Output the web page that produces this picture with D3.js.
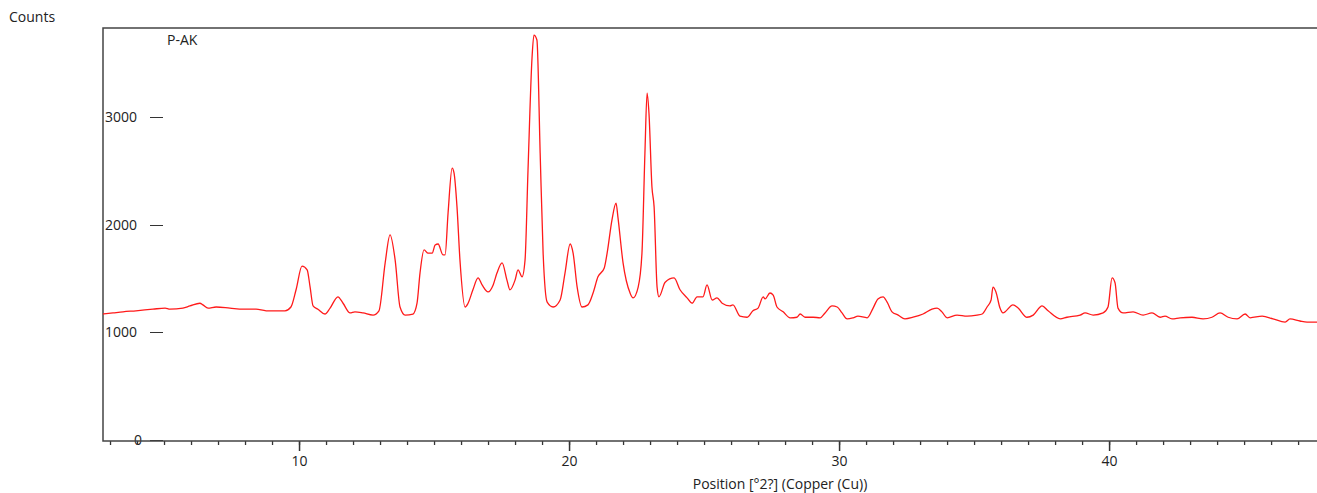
<!DOCTYPE html>
<html>
<head>
<meta charset="utf-8">
<script src="https://cdnjs.cloudflare.com/ajax/libs/d3/7.8.5/d3.min.js"></script>
<style>
  body { margin: 0; background: #fff; }
  text { font-family: "Segoe UI", "Open Sans", "Noto Sans", sans-serif; fill: #222; }
</style>
</head>
<body>
<script>
// diffraction pattern: position [deg 2theta] and counts
var twoTheta = [
  2.74, 3.11, 3.48, 3.96, 4.59, 5.04, 5.22, 5.70, 5.96, 6.33, 6.44, 6.63, 6.93, 7.44, 7.93, 8.41,
  8.78, 9.15, 9.48, 9.70, 9.89, 10.11, 10.30, 10.41, 10.52, 10.70, 10.96, 11.15, 11.44, 11.63, 11.89,
  12.07, 12.37, 12.74, 12.96, 13.19, 13.37, 13.56, 13.74, 13.93, 14.22, 14.37, 14.48, 14.63, 14.78,
  14.93, 15.04, 15.15, 15.33, 15.41, 15.52, 15.67, 15.74, 15.85, 15.96, 16.15, 16.26, 16.44, 16.63,
  16.78, 17.00, 17.19, 17.33, 17.52, 17.70, 17.81, 18.00, 18.11, 18.26, 18.37, 18.48, 18.63, 18.70,
  18.81, 18.93, 19.04, 19.19, 19.41, 19.67, 19.85, 20.04, 20.15, 20.30, 20.48, 20.70, 20.89, 21.07,
  21.30, 21.41, 21.59, 21.74, 21.81, 22.00, 22.26, 22.37, 22.56, 22.70, 22.81, 22.89, 22.96, 23.07,
  23.15, 23.26, 23.33, 23.56, 23.89, 24.11, 24.37, 24.56, 24.74, 24.96, 25.11, 25.30, 25.48, 25.67,
  25.96, 26.07, 26.33, 26.59, 26.81, 27.00, 27.19, 27.26, 27.44, 27.56, 27.70, 27.93, 28.19, 28.44,
  28.56, 28.74, 29.04, 29.30, 29.48, 29.74, 29.93, 30.11, 30.30, 30.52, 30.70, 31.04, 31.26, 31.44,
  31.63, 31.78, 31.96, 32.19, 32.44, 32.74, 33.11, 33.44, 33.63, 33.81, 34.00, 34.37, 34.74, 35.11,
  35.30, 35.48, 35.63, 35.70, 35.81, 35.96, 36.07, 36.44, 36.63, 36.96, 37.19, 37.52, 37.74, 38.19,
  38.44, 38.93, 39.11, 39.41, 39.78, 39.96, 40.11, 40.22, 40.33, 40.52, 40.89, 41.26, 41.59, 41.89,
  42.07, 42.33, 42.63, 43.07, 43.48, 43.81, 44.11, 44.41, 44.74, 45.04, 45.22, 45.67, 46.07, 46.52,
  46.70, 47.07, 47.33, 47.70
];
var counts = [
  1170, 1180, 1190, 1200, 1215, 1225, 1215, 1225, 1245, 1270, 1255, 1225, 1235, 1225, 1215, 1215,
  1200, 1200, 1200, 1235, 1395, 1615, 1580, 1420, 1245, 1215, 1170, 1225, 1330, 1270, 1180,
  1190, 1180, 1160, 1200, 1645, 1905, 1670, 1235, 1160, 1170, 1270, 1550, 1765, 1735,
  1735, 1810, 1820, 1720, 1720, 2110, 2525, 2480, 2165, 1670, 1235, 1270, 1395, 1505,
  1440, 1375, 1440, 1550, 1645, 1485, 1395, 1485, 1580, 1515, 1670, 2505, 3555, 3760,
  3715, 2665, 1735, 1280, 1235, 1300, 1550, 1820, 1735, 1420, 1235, 1255, 1365, 1515,
  1595, 1735, 2045, 2200, 2070, 1645, 1365, 1320, 1420, 1735, 2665, 3220, 3035, 2350,
  2165, 1420, 1330, 1465, 1505, 1395, 1320, 1270, 1330, 1330, 1440, 1300, 1320, 1270,
  1245, 1255, 1150, 1140, 1200, 1225, 1330, 1310, 1365, 1345, 1235, 1190, 1135, 1140,
  1170, 1140, 1140, 1135, 1180, 1245, 1235, 1180, 1125, 1135, 1150, 1135, 1225, 1310,
  1330, 1280, 1190, 1160, 1125, 1140, 1170, 1215, 1225, 1190, 1135, 1160, 1150, 1160,
  1170, 1235, 1300, 1420, 1375, 1225, 1180, 1255, 1225, 1140, 1160, 1245, 1200, 1125,
  1140, 1160, 1180, 1160, 1180, 1235, 1505, 1460, 1225, 1180, 1190, 1160, 1180, 1140,
  1150, 1125, 1135, 1140, 1125, 1140, 1180, 1140, 1125, 1170, 1135, 1150, 1125, 1095,
  1125, 1105, 1095, 1095
];
var yTicks = [0, 1000, 2000, 3000];
var xMajor = [10, 20, 30, 40];
var sampleName = "P-AK";
var yTitle = "Counts";
var xTitle = "Position [°2?] (Copper (Cu))";

var width = 1317, height = 493;
var plotLeft = 103, plotRight = 1317, plotTop = 28, plotBottom = 440;
var fontSize = "14px";

var svg = d3.select("body")
    .append("svg")
    .attr("width", width)
    .attr("height", height);

var x = d3.scaleLinear()
    .domain([2.74, 47.7])
    .range([plotLeft, plotRight]);

var y = d3.scaleLinear()
    .domain([0, 3826])
    .range([plotBottom, plotTop]);

svg.append("clipPath")
    .attr("id", "plot")
    .append("rect")
    .attr("x", plotLeft + 1)
    .attr("y", plotTop)
    .attr("width", plotRight - plotLeft)
    .attr("height", plotBottom - plotTop + 8);

var data = twoTheta.map(function (d, i) { return [d, counts[i]]; });

// y ticks: a short dash, not touching the axis, label clipped by the frame
var yg = svg.append("g").attr("clip-path", "url(#plot)");
yg.selectAll("line")
    .data(yTicks)
    .enter().append("line")
    .attr("x1", 150).attr("x2", 163)
    .attr("y1", function (d) { return Math.round(y(d)) + 0.5; })
    .attr("y2", function (d) { return Math.round(y(d)) + 0.5; })
    .style("stroke", "#333")
    .style("stroke-width", 1);
yg.selectAll("text")
    .data(yTicks)
    .enter().append("text")
    .attr("x", function (d) { return d === 0 ? 142 : 137; })
    .attr("y", function (d) { return y(d) + 5; })
    .attr("text-anchor", "end")
    .style("font-size", fontSize)
    .text(function (d) { return d; });

// x axis with minor ticks every degree
var xAxis = d3.axisBottom(x)
    .tickValues(d3.range(3, 48))
    .tickSize(4)
    .tickFormat("");
svg.append("g")
    .attr("transform", "translate(0," + (plotBottom + 1) + ")")
    .call(xAxis)
    .call(function (g) {
        g.select(".domain").remove();
        g.selectAll("line").style("stroke", "#333").style("stroke-width", 1.3);
    });

var xMaj = d3.axisBottom(x)
    .tickValues(xMajor)
    .tickSize(10)
    .tickPadding(5);
svg.append("g")
    .attr("transform", "translate(0," + (plotBottom + 1) + ")")
    .call(xMaj)
    .call(function (g) {
        g.select(".domain").remove();
        g.selectAll("line").style("stroke", "#333").style("stroke-width", 1.5);
        g.selectAll("text")
            .style("font-size", fontSize)
            .style("font-family", "'Segoe UI', 'Open Sans', 'Noto Sans', sans-serif")
            .style("fill", "#222");
    });

// frame: left, bottom and top lines
svg.append("path")
    .attr("d", "M" + plotRight + "," + plotTop + "H" + plotLeft + "V" + (plotBottom + 1) + "H" + plotRight)
    .style("fill", "none")
    .style("stroke", "#444")
    .style("stroke-width", 1.5);

var line = d3.line()
    .x(function (d) { return x(d[0]); })
    .y(function (d) { return y(d[1]); })
    .curve(d3.curveMonotoneX);

svg.append("path")
    .datum(data)
    .attr("d", line)
    .style("fill", "none")
    .style("stroke", "#ff1a1a")
    .style("stroke-width", 1.3);

svg.append("text")
    .attr("x", 9)
    .attr("y", 22)
    .style("font-size", fontSize)
    .text(yTitle);

svg.append("text")
    .attr("x", 167)
    .attr("y", 45)
    .style("font-size", fontSize)
    .text(sampleName);

svg.append("text")
    .attr("x", 780)
    .attr("y", 489)
    .attr("text-anchor", "middle")
    .style("font-size", fontSize)
    .text(xTitle);
</script>
</body>
</html>
